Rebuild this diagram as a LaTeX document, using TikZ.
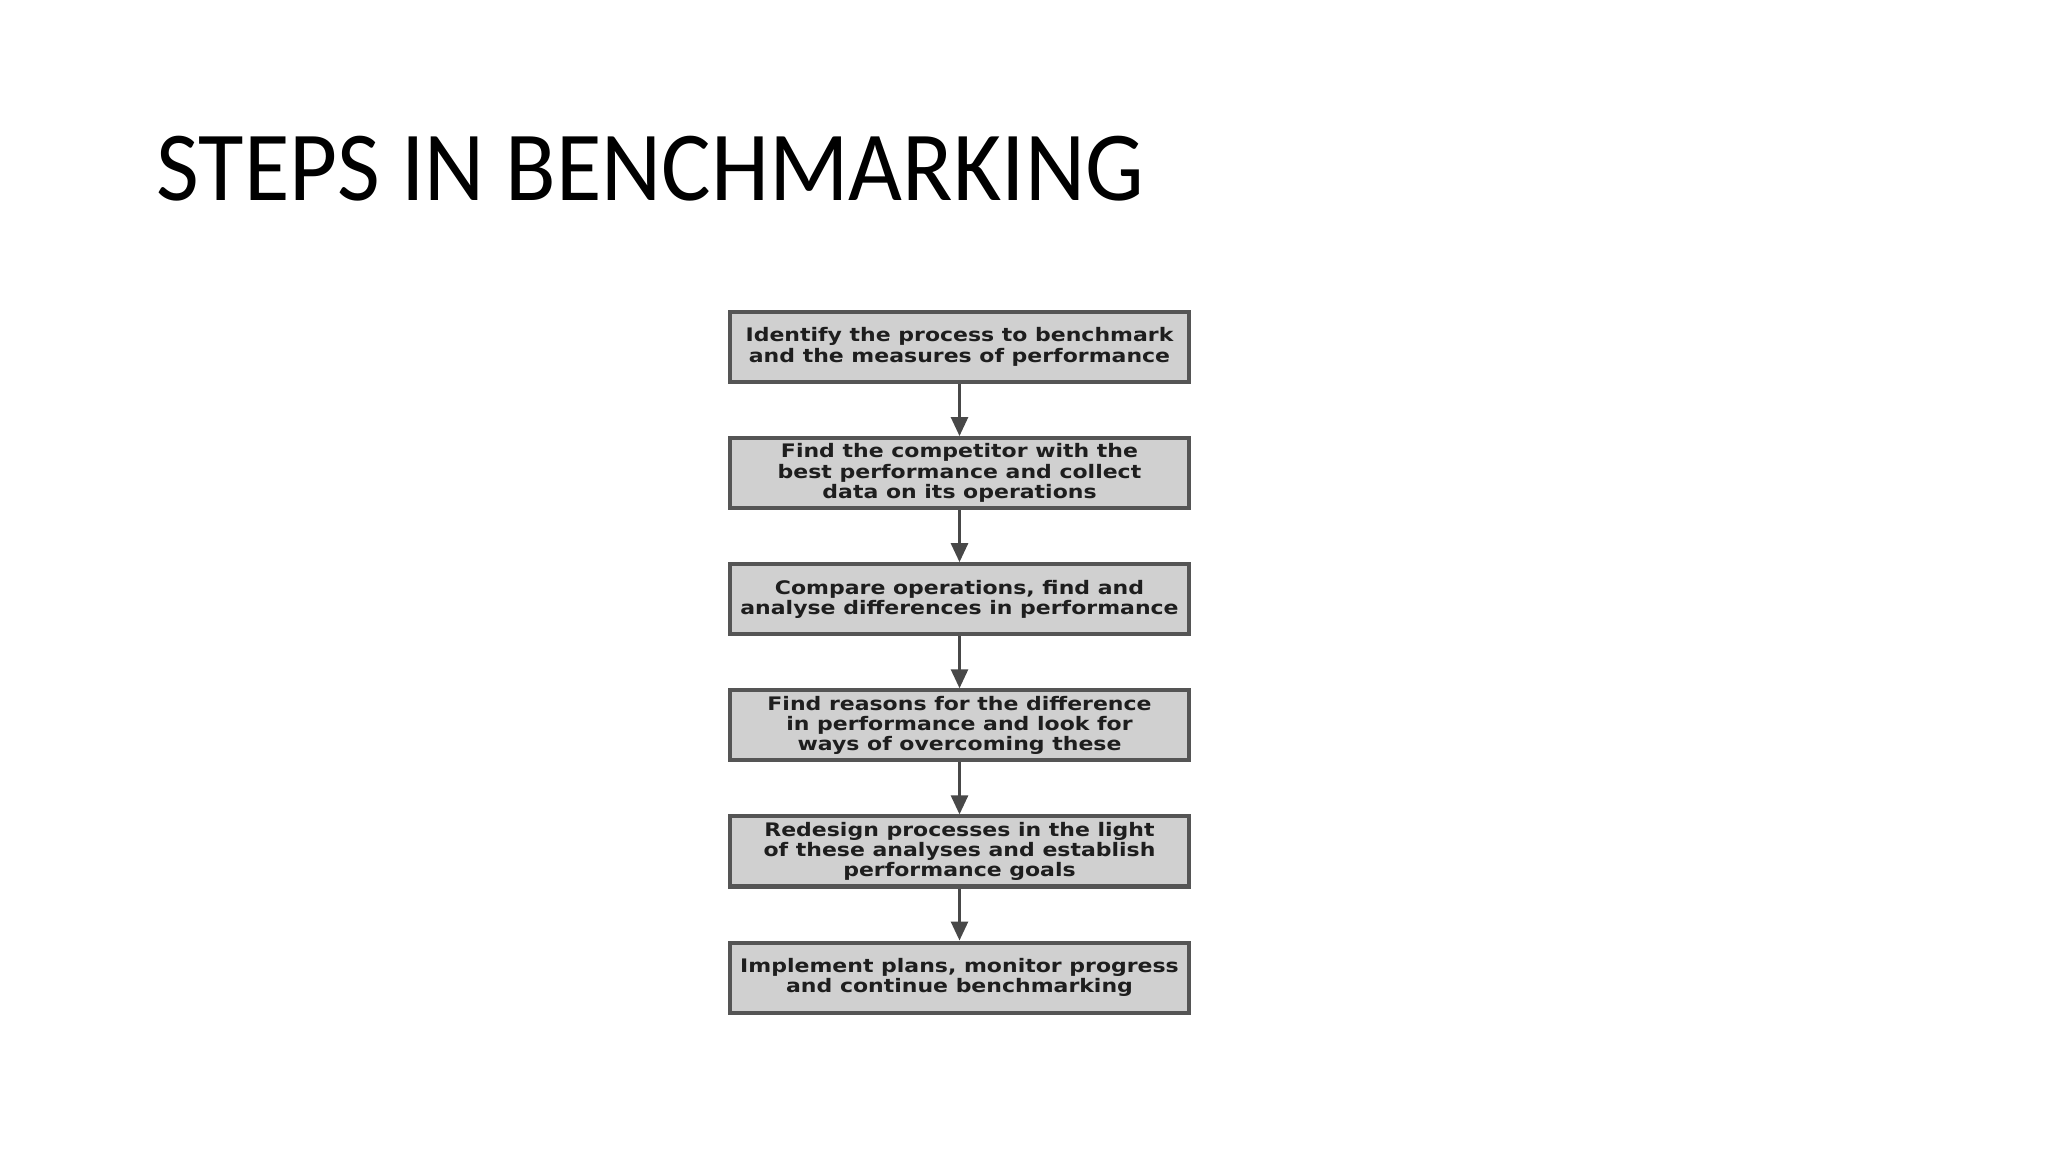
\documentclass[tikz,border=0pt]{standalone}
\usepackage{fontspec}
\setmainfont{Carlito}
\newfontfamily\stepfont{DejaVu Sans}[FakeStretch=1.18]
\usetikzlibrary{positioning,arrows.meta}
\definecolor{boxgray}{HTML}{555555}
\definecolor{boxfill}{HTML}{D0D0D0}
\definecolor{textdark}{HTML}{1E1E1E}
\tikzset{
  stepbox/.style={draw=boxgray, line width=1.15pt, fill=boxfill, text=textdark,
    minimum width=4.59cm, minimum height=0.70cm, inner sep=0pt, align=center,
    font=\stepfont\bfseries\fontsize{5.3}{5.8}\selectfont},
  flow/.style={draw=boxgray!85!black, line width=0.85pt, -{Triangle[length=5.4pt,width=4.8pt]}}
}

\begin{document}
\begin{tikzpicture}[x=0.01cm, y=-0.01cm]
\useasboundingbox[fill=white] (0,0) rectangle (2048,1152);
% Title of the slide
\node[anchor=base west, inner sep=0pt, font=\fontsize{28.2}{34}\selectfont] (title) at (156,201) {\scalebox{0.938}[1]{STEPS IN BENCHMARKING}};
% The six steps, one under the other
\node[stepbox] (identify) at (959.5,347) {Identify the process to benchmark\\and the measures of performance};
\node[stepbox, below=0.52cm of identify] (competitor) {Find the competitor with the\\best performance and collect\\data on its operations};
\node[stepbox, below=0.52cm of competitor] (compare) {Compare operations, find and\\analyse differences in performance};
\node[stepbox, below=0.52cm of compare] (reasons) {Find reasons for the difference\\in performance and look for\\ways of overcoming these};
\node[stepbox, below=0.52cm of reasons] (redesign) {Redesign processes in the light\\of these analyses and establish\\performance goals};
\node[stepbox, below=0.52cm of redesign] (implement) {Implement plans, monitor progress\\and continue benchmarking};
% Arrows between the steps
\draw[flow] (identify) -- (competitor);
\draw[flow] (competitor) -- (compare);
\draw[flow] (compare) -- (reasons);
\draw[flow] (reasons) -- (redesign);
\draw[flow] (redesign) -- (implement);
\end{tikzpicture}
\end{document}
